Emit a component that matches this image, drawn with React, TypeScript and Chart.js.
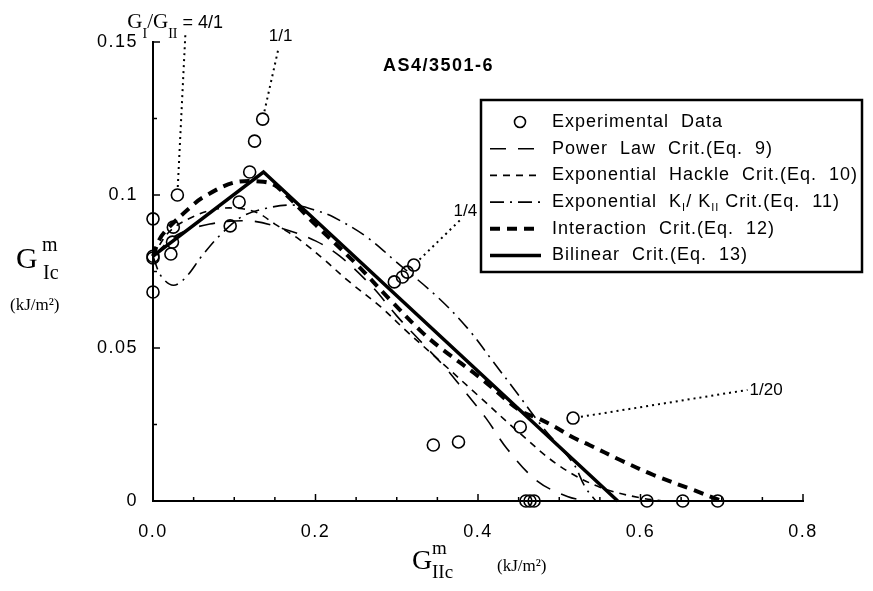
import React, { useEffect, useRef } from "react";
import { Chart, registerables } from "chart.js";

Chart.register(...registerables);

// ---------- data ----------
const expX = [0, 0, 0, 0, 0.022, 0.024, 0.025, 0.03, 0.095, 0.106, 0.119, 0.125, 0.135, 0.297, 0.307, 0.313, 0.321, 0.345, 0.376, 0.452, 0.517, 0.459, 0.464, 0.469, 0.608, 0.652, 0.695];
const expY = [0.0922, 0.0794, 0.08, 0.0683, 0.0807, 0.0846, 0.0895, 0.1, 0.0899, 0.0977, 0.1075, 0.1176, 0.1248, 0.0716, 0.0732, 0.0748, 0.0771, 0.0183, 0.0193, 0.0242, 0.0271, 0, 0, 0, 0, 0, 0];

const powerX = [0, 0.03, 0.07, 0.12, 0.16, 0.2, 0.23, 0.27, 0.3, 0.33, 0.36, 0.38, 0.41, 0.436, 0.473, 0.51, 0.535];
const powerY = [0.08, 0.087, 0.0905, 0.0915, 0.089, 0.085, 0.08, 0.07, 0.0605, 0.052, 0.0435, 0.037, 0.027, 0.017, 0.0065, 0.0015, 0];

const hackleX = [0, 0.02, 0.05, 0.08, 0.11, 0.13, 0.15, 0.18, 0.21, 0.24, 0.28, 0.31, 0.35, 0.4, 0.45, 0.5, 0.55, 0.6, 0.63];
const hackleY = [0.08, 0.088, 0.093, 0.0955, 0.0955, 0.094, 0.0905, 0.0855, 0.079, 0.072, 0.0635, 0.056, 0.0465, 0.0345, 0.0225, 0.0115, 0.0045, 0.001, 0];

const kX = [0, 0.01, 0.025, 0.04, 0.06, 0.083, 0.11, 0.14, 0.173, 0.2, 0.222, 0.263, 0.3, 0.35, 0.387, 0.419, 0.448, 0.48, 0.517, 0.532, 0.545];
const kY = [0.08, 0.0735, 0.0705, 0.073, 0.08, 0.087, 0.093, 0.0957, 0.0967, 0.095, 0.0928, 0.0863, 0.078, 0.0667, 0.0565, 0.0454, 0.0353, 0.024, 0.0124, 0.0045, 0];

const interX = [0, 0.008, 0.018, 0.046, 0.062, 0.099, 0.136, 0.153, 0.2, 0.25, 0.292, 0.331, 0.354, 0.403, 0.452, 0.474, 0.495, 0.516, 0.537, 0.575, 0.616, 0.665, 0.7];
const interY = [0.08, 0.0855, 0.089, 0.096, 0.0993, 0.104, 0.1043, 0.1026, 0.0903, 0.0775, 0.0657, 0.0552, 0.05, 0.0402, 0.0295, 0.027, 0.0242, 0.0209, 0.0183, 0.0134, 0.0085, 0.0036, 0];

const bilinX = [0, 0.136, 0.572];
const bilinY = [0.08, 0.1075, 0];

const xTicks = [0, 0.2, 0.4, 0.6, 0.8];
const xTickLabels = ["0.0", "0.2", "0.4", "0.6", "0.8"];
const yTicks = [0, 0.05, 0.1, 0.15];
const yTickLabels = ["0", "0.05", "0.1", "0.15"];
const xMinor = [0.05, 0.1, 0.15, 0.25, 0.3, 0.35, 0.45, 0.5, 0.55, 0.65, 0.7, 0.75];
const yMinor = [0.025, 0.075, 0.125];

const legendLabels = [
  "Experimental  Data",
  "Power  Law  Crit.(Eq.  9)",
  "Exponential  Hackle  Crit.(Eq.  10)",
  "Exponential  K|I|/ K|II| Crit.(Eq.  11)",
  "Interaction  Crit.(Eq.  12)",
  "Bilinear  Crit.(Eq.  13)",
];

// annotations (data coords)
const annoPointX = [0.03, 0.135, 0.321, 0.517];
const annoPointY = [0.1, 0.1248, 0.0771, 0.0271];
const annoEndX = [0.0398, 0.154, 0.3807, 0.7317];
const annoEndY = [0.1523, 0.1474, 0.0925, 0.0363];
const annoLabels = ["4/1", "1/1", "1/4", "1/20"];
const annoLabelX = [-0.0316, 0.157, 0.3844, 0.7343];
const annoLabelY = [0.1546, 0.152, 0.0948, 0.0363];

const title = "AS4/3501-6";

const pts = (xs: number[], ys: number[]) => xs.map((x, i) => ({ x, y: ys[i] }));

const SANS = "'Liberation Sans', Arial, sans-serif";
const SERIF = "'Liberation Serif', 'Times New Roman', serif";

function lineStyle(ctx: CanvasRenderingContext2D, idx: number) {
  ctx.strokeStyle = "#000";
  ctx.lineCap = "butt";
  if (idx === 1) { ctx.lineWidth = 1.6; ctx.setLineDash([16, 12]); }
  else if (idx === 2) { ctx.lineWidth = 1.6; ctx.setLineDash([7, 6]); }
  else if (idx === 3) { ctx.lineWidth = 1.6; ctx.setLineDash([14, 6, 2, 6]); }
  else if (idx === 4) { ctx.lineWidth = 4; ctx.setLineDash([10, 7]); }
  else { ctx.lineWidth = 3.5; ctx.setLineDash([]); }
}

const decorPlugin = {
  id: "decor",
  beforeDraw(chart: any) {
    (chart.ctx as any).letterSpacing = "1.5px";
  },
  afterDraw(chart: any) {
    const ctx: CanvasRenderingContext2D = chart.ctx;
    const xs = chart.scales.x;
    const ys = chart.scales.y;
    const ca = chart.chartArea;
    ctx.save();
    (ctx as any).letterSpacing = "0px";
    ctx.strokeStyle = "#000";
    ctx.setLineDash([]);
    // inward ticks
    ctx.lineWidth = 1.5;
    xTicks.forEach((v) => {
      const p = xs.getPixelForValue(v);
      ctx.beginPath(); ctx.moveTo(p, ca.bottom); ctx.lineTo(p, ca.bottom - 7); ctx.stroke();
    });
    xMinor.forEach((v) => {
      const p = xs.getPixelForValue(v);
      ctx.beginPath(); ctx.moveTo(p, ca.bottom); ctx.lineTo(p, ca.bottom - 4); ctx.stroke();
    });
    yTicks.forEach((v) => {
      const p = ys.getPixelForValue(v);
      ctx.beginPath(); ctx.moveTo(ca.left, p); ctx.lineTo(ca.left + 7, p); ctx.stroke();
    });
    yMinor.forEach((v) => {
      const p = ys.getPixelForValue(v);
      ctx.beginPath(); ctx.moveTo(ca.left, p); ctx.lineTo(ca.left + 4, p); ctx.stroke();
    });

    // annotations dotted lines
    ctx.lineWidth = 2;
    ctx.setLineDash([2, 4]);
    annoPointX.forEach((px, i) => {
      const x0 = xs.getPixelForValue(px), y0 = ys.getPixelForValue(annoPointY[i]);
      const x1 = xs.getPixelForValue(annoEndX[i]), y1 = ys.getPixelForValue(annoEndY[i]);
      const d = Math.hypot(x1 - x0, y1 - y0);
      const sx = x0 + ((x1 - x0) / d) * 8, sy = y0 + ((y1 - y0) / d) * 8;
      ctx.beginPath(); ctx.moveTo(sx, sy); ctx.lineTo(x1, y1); ctx.stroke();
    });
    ctx.setLineDash([]);
    ctx.fillStyle = "#000";
    ctx.textBaseline = "alphabetic";
    // ratio label "G_I/G_II = 4/1"
    {
      let x = xs.getPixelForValue(annoLabelX[0]);
      const y = ys.getPixelForValue(annoLabelY[0]);
      const parts: [string, string, number][] = [
        ["G", `21px ${SERIF}`, 0], ["I", `14px ${SERIF}`, 10], ["/G", `21px ${SERIF}`, 0],
        ["II", `14px ${SERIF}`, 10], [" = " + annoLabels[0], `18px ${SANS}`, 0],
      ];
      ctx.textAlign = "left";
      parts.forEach(([t, f, dy]) => {
        ctx.font = f; ctx.fillText(t, x, y + dy); x += ctx.measureText(t).width;
      });
    }
    ctx.font = `17px ${SANS}`;
    ctx.textBaseline = "middle";
    for (let i = 1; i < annoLabels.length; i++) {
      ctx.textAlign = i === 3 ? "left" : "center";
      ctx.fillText(annoLabels[i], xs.getPixelForValue(annoLabelX[i]), ys.getPixelForValue(annoLabelY[i]));
    }

    // title
    ctx.font = `bold 18px ${SANS}`;
    (ctx as any).letterSpacing = "1.5px";
    ctx.textAlign = "left";
    ctx.fillText(title, 383, 66);

    // legend box
    (ctx as any).letterSpacing = "1px";
    const bx = 481, by = 100, bw = 381, bh = 172;
    ctx.lineWidth = 2.5;
    ctx.strokeRect(bx, by, bw, bh);
    const rowY0 = 122, rowH = 26.7;
    legendLabels.forEach((lab, i) => {
      const ry = rowY0 + i * rowH;
      if (i === 0) {
        ctx.setLineDash([]);
        ctx.lineWidth = 1.6;
        ctx.beginPath(); ctx.arc(520, ry, 5.5, 0, Math.PI * 2); ctx.stroke();
      } else {
        lineStyle(ctx, i);
        ctx.beginPath(); ctx.moveTo(490, ry); ctx.lineTo(541, ry); ctx.stroke();
        ctx.setLineDash([]);
      }
      let x = 552;
      const segs = lab.split("|");
      ctx.textAlign = "left";
      ctx.textBaseline = "middle";
      segs.forEach((s, k) => {
        if (k % 2 === 1) {
          ctx.font = `11px ${SANS}`;
          ctx.fillText(s, x, ry + 6);
        } else {
          ctx.font = `18px ${SANS}`;
          ctx.fillText(s, x, ry);
        }
        x += ctx.measureText(s).width;
      });
    });

    // axis titles
    (ctx as any).letterSpacing = "0px";
    ctx.textBaseline = "alphabetic";
    ctx.textAlign = "left";
    ctx.font = `30px ${SERIF}`; ctx.fillText("G", 16, 268);
    ctx.font = `20px ${SERIF}`; ctx.fillText("m", 42, 251); ctx.fillText("Ic", 43, 279);
    ctx.font = `17px ${SERIF}`; ctx.fillText("(kJ/m\u00b2)", 10, 310);
    ctx.font = `28px ${SERIF}`; ctx.fillText("G", 412, 569);
    ctx.font = `19px ${SERIF}`; ctx.fillText("m", 432, 554); ctx.fillText("IIc", 432, 578);
    ctx.font = `17px ${SERIF}`; ctx.fillText("(kJ/m\u00b2)", 497, 571);
    ctx.restore();
  },
};

export default function App() {
  const ref = useRef<HTMLCanvasElement | null>(null);
  useEffect(() => {
    if (!ref.current) return;
    const mk = (label: string, xs: number[], ys: number[], idx: number) => {
      const base: any = {
        label, data: pts(xs, ys), showLine: true, pointRadius: 0, borderColor: "#000",
        backgroundColor: "transparent", tension: 0.35, clip: false, order: 10 - idx,
      };
      if (idx === 1) Object.assign(base, { borderWidth: 1.6, borderDash: [16, 12] });
      if (idx === 2) Object.assign(base, { borderWidth: 1.6, borderDash: [7, 6] });
      if (idx === 3) Object.assign(base, { borderWidth: 1.6, borderDash: [14, 6, 2, 6] });
      if (idx === 4) Object.assign(base, { borderWidth: 4, borderDash: [10, 7] });
      if (idx === 5) Object.assign(base, { borderWidth: 3.5, tension: 0 });
      return base;
    };
    const chart = new Chart(ref.current, {
      type: "scatter",
      data: {
        datasets: [
          {
            label: "Experimental Data", data: pts(expX, expY), showLine: false,
            pointRadius: 6, pointBorderWidth: 1.6, pointBorderColor: "#000",
            pointBackgroundColor: "transparent", clip: false, order: 0,
          } as any,
          mk("Power Law Crit.(Eq. 9)", powerX, powerY, 1),
          mk("Exponential Hackle Crit.(Eq. 10)", hackleX, hackleY, 2),
          mk("Exponential KI/KII Crit.(Eq. 11)", kX, kY, 3),
          mk("Interaction Crit.(Eq. 12)", interX, interY, 4),
          mk("Bilinear Crit.(Eq. 13)", bilinX, bilinY, 5),
        ],
      },
      options: {
        animation: false,
        responsive: true,
        maintainAspectRatio: false,
        layout: { padding: { left: 0, top: 42, right: 70, bottom: 0 } },
        plugins: { legend: { display: false }, tooltip: { enabled: false }, title: { display: false } },
        scales: {
          x: {
            type: "linear", min: 0, max: 0.8,
            afterFit: (s: any) => { s.height = 90; },
            afterBuildTicks: (s: any) => { s.ticks = xTicks.map((v) => ({ value: v })); },
            grid: { display: false, drawTicks: false },
            border: { display: true, color: "#000", width: 2 },
            ticks: {
              padding: 20, color: "#000", font: { family: SANS, size: 18 },
              maxRotation: 0,
              callback: (v: any) => xTickLabels[xTicks.findIndex((t) => Math.abs(t - v) < 1e-9)] ?? "",
            },
          },
          y: {
            type: "linear", min: 0, max: 0.15,
            afterFit: (s: any) => { s.width = 153; },
            afterBuildTicks: (s: any) => { s.ticks = yTicks.map((v) => ({ value: v })); },
            grid: { display: false, drawTicks: false },
            border: { display: true, color: "#000", width: 2 },
            ticks: {
              padding: 15, color: "#000", font: { family: SANS, size: 18 },
              callback: (v: any) => yTickLabels[yTicks.findIndex((t) => Math.abs(t - v) < 1e-9)] ?? "",
            },
          },
        },
      } as any,
      plugins: [decorPlugin],
    });
    return () => chart.destroy();
  }, []);
  return (
    <div style={{ position: "fixed", left: 0, top: 0, width: 873, height: 591, background: "#fff" }}>
      <canvas ref={ref} />
    </div>
  );
}
